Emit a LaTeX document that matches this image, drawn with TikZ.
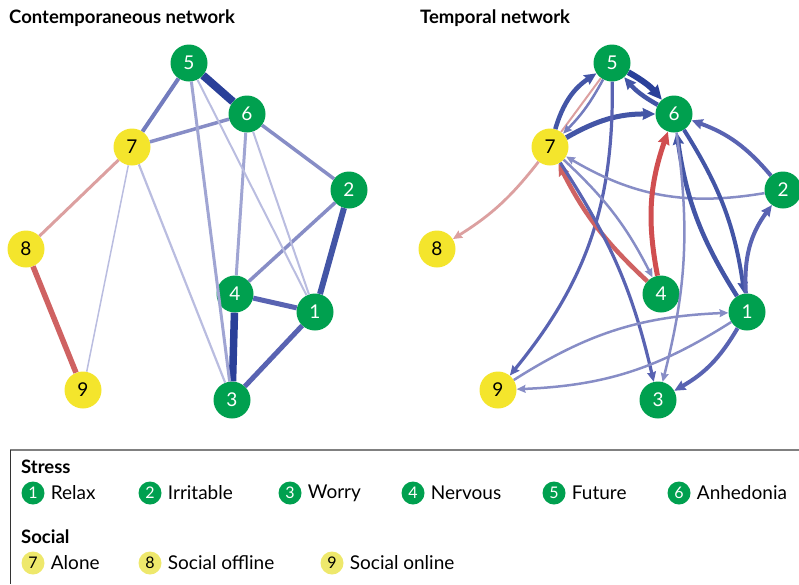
\documentclass[tikz,border=0pt]{standalone}
\usepackage{fontspec}
\setmainfont{Lato}
\usetikzlibrary{arrows.meta,positioning}
\definecolor{stressgreen}{HTML}{00A04F}
\definecolor{socialyellow}{HTML}{F4E52C}
\definecolor{keyyellow}{HTML}{EEE86C}
\definecolor{bdark}{HTML}{2A4099}
\definecolor{bmdark}{HTML}{4355A6}
\definecolor{bmid}{HTML}{5963B2}
\definecolor{bsoft}{HTML}{737CBE}
\definecolor{blight}{HTML}{878DC6}
\definecolor{bpale}{HTML}{A0A5D3}
\definecolor{bfaint}{HTML}{BABDE0}
\definecolor{rpink}{HTML}{DCA0A0}
\definecolor{rred}{HTML}{CF6262}
\definecolor{rstrong}{HTML}{D04E50}
\begin{document}
\begin{tikzpicture}[x=1pt,y=1pt,
	stress/.style={circle,fill=stressgreen,text=white,minimum size=37pt,inner sep=0pt,font=\fontsize{19}{19}\selectfont},
	social/.style={circle,fill=socialyellow,text=black,minimum size=37pt,inner sep=0pt,font=\fontsize{19}{19}\selectfont},
	keystress/.style={circle,fill=stressgreen,text=white,minimum size=23pt,inner sep=0pt,font=\fontsize{16}{16}\selectfont},
	keysocial/.style={circle,fill=keyyellow,text=black,minimum size=23pt,inner sep=0pt,font=\fontsize{16}{16}\selectfont},
	keytext/.style={inner sep=0pt,font=\fontsize{19}{19}\selectfont},
	heading/.style={anchor=west,inner sep=0pt,font=\fontsize{18.5}{18.5}\selectfont\bfseries},
	arr/.style={-{Stealth[length=5pt 1.5,width=4pt 1.5,inset=1pt]}}]
	\useasboundingbox (0,0) rectangle (799,-584);
	% titles
	\node[heading] (tleft) at (9,-18) {Contemporaneous network};
	\node[heading] (tright) at (420,-18) {Temporal network};
	% contemporaneous network
	\node[stress] (c1) at (315,-312) {1};
	\node[stress] (c2) at (349,-190) {2};
	\node[stress] (c3) at (232,-400) {3};
	\node[stress] (c4) at (235,-294) {4};
	\node[stress] (c5) at (189,-63) {5};
	\node[stress] (c6) at (247,-114) {6};
	\node[social] (c7) at (132,-147) {7};
	\node[social] (c8) at (26,-249) {8};
	\node[social] (c9) at (83,-390) {9};
	\foreach \a/\b/\w/\c in {5/6/8/bdark, 4/3/7.5/bdark, 2/1/6/bmdark, 4/1/5/bmid,
		1/3/5/bmid, 5/7/4/bsoft, 7/6/3.5/blight, 6/2/3.5/blight, 2/4/3.5/blight,
		5/3/3/bpale, 6/4/3/bpale, 5/1/2/bfaint, 6/1/2/bfaint,
		7/3/2.2/bfaint, 7/9/1.5/bfaint, 7/8/3/rpink, 8/9/5.5/rred}
		\draw[line width=\w pt,\c] (c\a) -- (c\b);
	% temporal network
	\node[stress] (t1) at (747,-312) {1};
	\node[stress] (t2) at (783,-190) {2};
	\node[stress] (t3) at (658,-400) {3};
	\node[stress] (t4) at (661,-294) {4};
	\node[stress] (t5) at (612,-63) {5};
	\node[stress] (t6) at (674,-114) {6};
	\node[social] (t7) at (550,-147) {7};
	\node[social] (t8) at (437,-249) {8};
	\node[social] (t9) at (498,-390) {9};
	\draw[line width=2pt,rpink] (t7) -- (t5);
	\foreach \a/\b/\w/\c/\t in {5/6/6/bdark/10, 6/5/4.5/bmdark/10, 7/5/4.5/bmdark/20,
		5/7/2.5/bsoft/8, 7/6/5/bmdark/15, 5/9/3.2/bmid/20, 2/7/2.5/blight/20,
		2/6/4/bmid/-15, 6/1/4/bmdark/12, 1/6/4.5/bmdark/12, 1/2/4/bmid/20,
		4/6/5/rstrong/15, 4/7/4.5/rred/10, 7/4/2.5/blight/10, 7/3/3.2/bmid/10,
		6/3/2.5/blight/11, 1/3/4/bmid/15, 9/1/2.5/blight/15, 1/9/2.5/blight/15,
		7/8/2.8/rpink/10}
		\draw[arr,line width=\w pt,\c] (t\a) to[bend left=\t] (t\b);
	% legend
	\draw[gray,line width=1.5pt] (10,-450) -- (799,-450);
	\draw[black!80,line width=0.8pt] (10,-450) -- (10,-584);
	\node[heading] (hstress) at (21,-467) {Stress};
	\node[heading] (hsocial) at (21,-537) {Social};
	\foreach \n/\x/\t in {1/33/Relax, 2/150/Irritable, 3/290/Worry,
		4/413/Nervous, 5/554/Future, 6/679/Anhedonia} {
		\node[keystress] (k\n) at (\x,-493) {\n};
		\node[keytext,right=6pt of k\n] (l\n) {\t};
	}
	\foreach \n/\x/\t in {7/33/Alone, 8/150/Social offline, 9/332/Social online} {
		\node[keysocial] (k\n) at (\x,-563) {\n};
		\node[keytext,right=6pt of k\n] (l\n) {\t};
	}
\end{tikzpicture}
\end{document}
